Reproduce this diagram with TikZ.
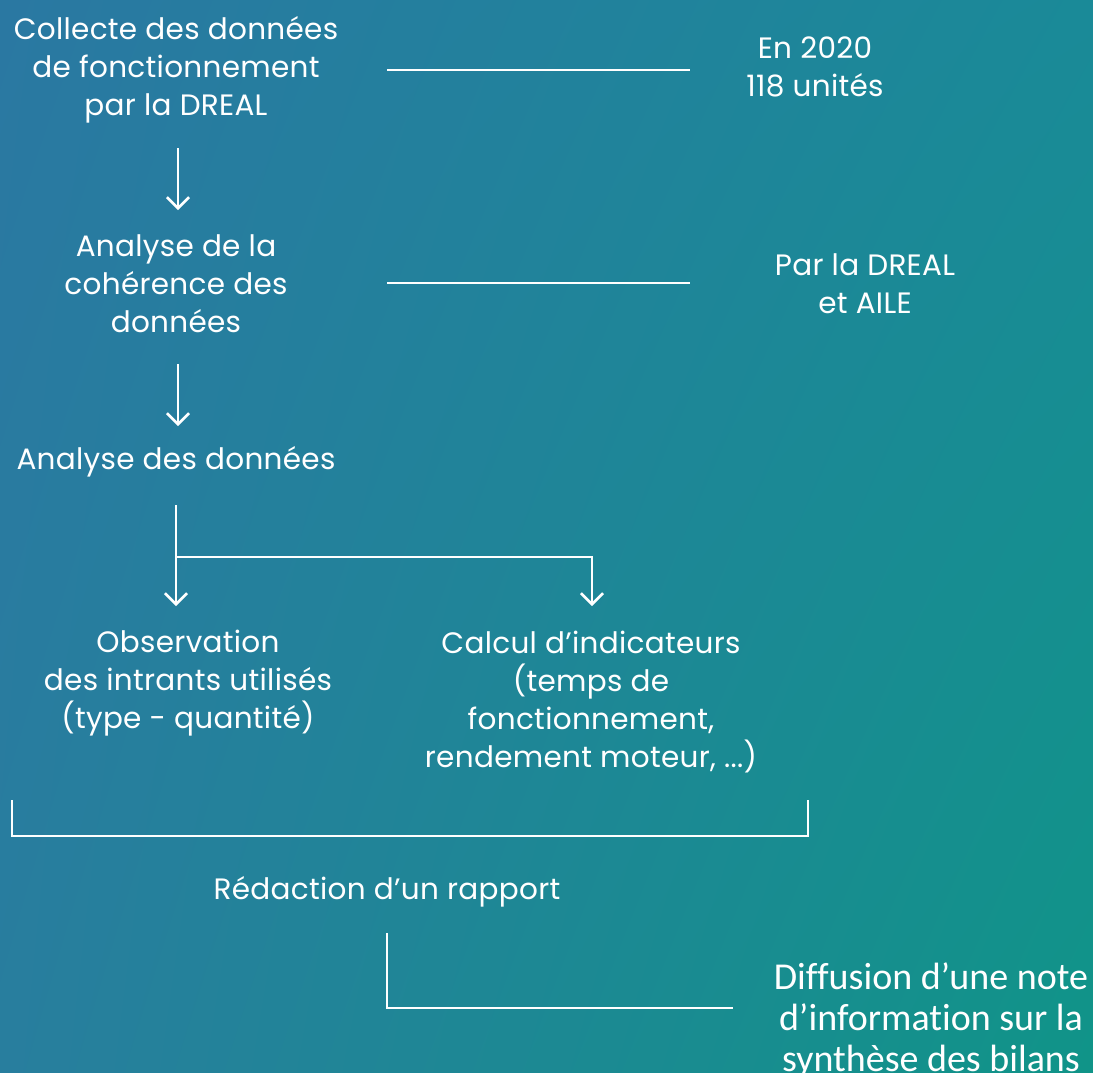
\documentclass[tikz,border=0pt]{standalone}
\usepackage{fontspec}
\setmainfont[LetterSpace=1]{Poppins}
\newfontfamily\calfont[Ligatures=NoCommon]{Carlito}
\usetikzlibrary{arrows.meta,shadings}
\definecolor{bgTL}{RGB}{42,120,162}
\definecolor{bgTR}{RGB}{26,138,152}
\definecolor{bgBL}{RGB}{40,126,158}
\definecolor{bgBR}{RGB}{16,148,136}
\tikzset{
  lbl/.style={text=white, align=center, font=\fontsize{29.5}{38}\selectfont, inner sep=0pt},
  lblc/.style={text=white, align=center, font=\calfont\fontsize{38}{41}\selectfont, inner sep=0pt},
  wline/.style={draw=white, line width=2.6pt},
  warrow/.style={wline, -{Straight Barb[length=11pt,width=22pt,line width=2.6pt]}},
}
\begin{document}
\begin{tikzpicture}[x=1pt,y=-1pt]
\shade[upper left=bgTL, upper right=bgTR, lower left=bgBL, lower right=bgBR] (0,0) rectangle (1093,1072);
\useasboundingbox (0,0) rectangle (1093,1072);

\node[lbl] (collect) at (176,70) {Collecte des données\\de fonctionnement\\par la DREAL};
\node[lbl] (year) at (815,67) {En 2020\\118 unités};
\node[lbl] (coh) at (176,284) {Analyse de la\\cohérence des\\données};
\node[lbl] (who) at (865,284) {Par la DREAL\\et AILE};
\node[lbl] (ana) at (176,462) {Analyse des données};
\node[lbl] (obs) at (188,683) {Observation\\des intrants utilisés\\(type - quantité)};
\node[lbl] (calc) at (591,702) {Calcul d’indicateurs\\(temps de\\fonctionnement,\\rendement moteur, ...)};
\node[lbl] (redac) at (387,892) {Rédaction d’un rapport};
\node[lblc] (diff) at (931,1020) {Diffusion d’une note\\d’information sur la\\synthèse des bilans};

% side links
\coordinate (l1a) at (387,70); \coordinate (l1b) at (690,70);
\draw[wline] (l1a) -- (l1b);
\coordinate (l2a) at (387,283); \coordinate (l2b) at (690,283);
\draw[wline] (l2a) -- (l2b);

% vertical arrows
\coordinate (a1s) at (178,148); \coordinate (a1e) at (178,210);
\draw[warrow] (a1s) -- (a1e);
\coordinate (a2s) at (178,364); \coordinate (a2e) at (178,426);
\draw[warrow] (a2s) -- (a2e);

% split
\coordinate (s0) at (176,505); \coordinate (s1) at (176,606);
\coordinate (sj) at (176,557); \coordinate (s2) at (592,557); \coordinate (s3) at (592,606);
\draw[warrow] (s0) -- (s1);
\draw[warrow] (sj) -- (s2) -- (s3);

% bracket
\coordinate (b0) at (12,800); \coordinate (b1) at (12,836);
\coordinate (b2) at (808,836); \coordinate (b3) at (808,800);
\draw[wline] (b0) -- (b1) -- (b2) -- (b3);

% final L
\coordinate (f0) at (387,933); \coordinate (f1) at (387,1008); \coordinate (f2) at (733,1008);
\draw[wline] (f0) -- (f1) -- (f2);
\end{tikzpicture}
\end{document}
